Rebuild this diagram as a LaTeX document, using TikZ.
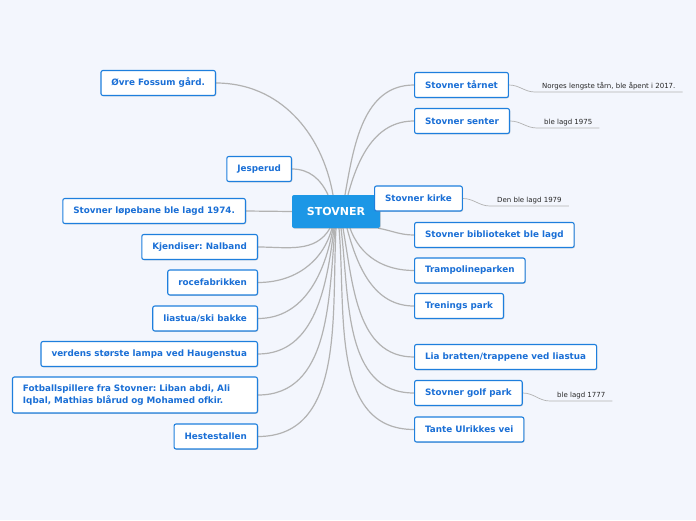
\documentclass[tikz,border=0pt]{standalone}
\usepackage{fontspec}
\setmainfont{DejaVu Sans}
\usetikzlibrary{shadows}
\usetikzlibrary{backgrounds}
\frenchspacing

\definecolor{mapbg}{HTML}{F3F6FD}
\definecolor{topicblue}{HTML}{1E7FDD}
\definecolor{topictext}{HTML}{1A6FD6}
\definecolor{rootblue}{HTML}{1C97E6}
\definecolor{linegray}{HTML}{B2B2B2}

\begin{document}
\begin{tikzpicture}[x=1pt,y=-1pt]
    \tikzstyle{topic}=[draw=topicblue, line width=1.1pt, fill=white, rounded corners=2pt, text=topictext, font=\fontsize{8.8}{11.5}\selectfont\bfseries, minimum height=25pt, inner xsep=10.5pt, drop shadow={opacity=.3, shadow xshift=.8pt, shadow yshift=-.8pt}]
    \tikzstyle{root}=[fill=rootblue, rounded corners=2pt, text=white, font=\fontsize{11}{13}\selectfont\bfseries, minimum width=88pt, minimum height=33pt, drop shadow={opacity=.3, shadow xshift=.8pt, shadow yshift=-.8pt}]
    \tikzstyle{note}=[font=\fontsize{7}{8}\selectfont, text=black!85, inner xsep=7pt, inner ysep=2pt, anchor=south west]
    \tikzstyle{branch}=[draw=linegray, line width=1.2pt]
    \tikzstyle{twig}=[draw=linegray, line width=.7pt]
    \useasboundingbox (0,0) rectangle (696,520);

    % centre
    \node[root] (c) at (336,211.5) {STOVNER};

    % right side
    \node[topic, anchor=west] (trn) at (414,85) {Stovner tårnet};
    \node[topic, anchor=west] (snt) at (414,121) {Stovner senter};
    \node[topic, anchor=west] (krk) at (374,198.5) {Stovner kirke};
    \node[topic, anchor=west] (bib) at (414,235) {Stovner biblioteket ble lagd};
    \node[topic, anchor=west] (trp) at (414,270.5) {Trampolineparken};
    \node[topic, anchor=west] (tre) at (414,306) {Trenings park};
    \node[topic, anchor=west] (lia) at (414,357) {Lia bratten/trappene ved liastua};
    \node[topic, anchor=west] (glf) at (414,393) {Stovner golf park};
    \node[topic, anchor=west] (tan) at (414,429.5) {Tante Ulrikkes vei};

    % left side
    \node[topic, anchor=east] (ovr) at (216,83) {Øvre Fossum gård.};
    \node[topic, anchor=east] (jes) at (292,169) {Jesperud};
    \node[topic, anchor=east] (lop) at (246,211) {Stovner løpebane ble lagd 1974.};
    \node[topic, anchor=east] (kje) at (258,247) {Kjendiser: Nalband};
    \node[topic, anchor=east] (roc) at (258,282.5) {rocefabrikken};
    \node[topic, anchor=east] (lsk) at (258,318.5) {liastua/ski bakke};
    \node[topic, anchor=east] (lmp) at (258,354) {verdens største lampa ved Haugenstua};
    \node[topic, anchor=east, align=left, text width=224pt, minimum height=36pt] (fot) at (258,395) {Fotballspillere fra Stovner: Liban abdi, Ali\\Iqbal, Mathias blårud og Mohamed ofkir.};
    \node[topic, anchor=east] (hst) at (258,436.5) {Hestestallen};

    % notes
    \node[note] (ntrn) at (535,92) {Norges lengste tårn, ble åpent i 2017.};
    \node[note] (nsnt) at (537,128) {ble lagd 1975};
    \node[note] (nkrk) at (490,206) {Den ble lagd 1979};
    \node[note] (nglf) at (550,401) {ble lagd 1777};

    \begin{pgfonlayer}{background}
    \fill[mapbg] (0,0) rectangle (696,520);
    % branches to the right
    \draw[branch] ([xshift=9pt]c.north) to[out=80,in=180] (trn.west);
    \draw[branch] ([xshift=12pt]c.north) to[out=75,in=180] (snt.west);
    \draw[branch] (c.north east) to[out=0,in=180] (krk.west);
    \draw[branch] ([xshift=-2pt]c.south east) to[out=-10,in=180] (bib.west);
    \draw[branch] ([xshift=14pt]c.south) to[out=-70,in=180] (trp.west);
    \draw[branch] ([xshift=11pt]c.south) to[out=-75,in=180] (tre.west);
    \draw[branch] ([xshift=7pt]c.south) to[out=-80,in=180] (lia.west);
    \draw[branch] ([xshift=5pt]c.south) to[out=-83,in=180] (glf.west);
    \draw[branch] ([xshift=3pt]c.south) to[out=-85,in=180] (tan.west);
    % branches to the left
    \draw[branch] (ovr.east) to[out=0,in=100] ([xshift=-3pt]c.north);
    \draw[branch] (jes.east) to[out=0,in=115] ([xshift=-8pt]c.north);
    \draw[branch] (lop.east) -- (c.west);
    \draw[branch] (kje.east) to[out=0,in=-120] ([xshift=-6pt]c.south);
    \draw[branch] (roc.east) to[out=0,in=-105] ([xshift=-4pt]c.south);
    \draw[branch] (lsk.east) to[out=0,in=-100] ([xshift=-3pt]c.south);
    \draw[branch] (lmp.east) to[out=0,in=-97] ([xshift=-2pt]c.south);
    \draw[branch] (fot.east) to[out=0,in=-95] ([xshift=-1pt]c.south);
    \draw[branch] (hst.east) to[out=0,in=-93] (c.south);
    % notes
    \draw[twig] (trn.east) to[out=0,in=180] (ntrn.south west) -- (ntrn.south east);
    \draw[twig] (snt.east) to[out=0,in=180] (nsnt.south west) -- (nsnt.south east);
    \draw[twig] (krk.east) to[out=0,in=180] (nkrk.south west) -- (nkrk.south east);
    \draw[twig] (glf.east) to[out=0,in=180] (nglf.south west) -- (nglf.south east);
    \end{pgfonlayer}
\end{tikzpicture}
\end{document}
